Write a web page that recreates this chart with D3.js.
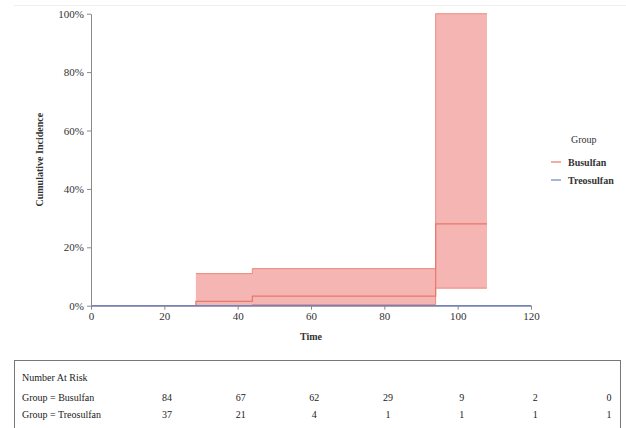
<!DOCTYPE html>
<html>
<head>
<meta charset="utf-8">
<script src="https://cdn.jsdelivr.net/npm/d3@7"></script>
<style>
  body { margin: 0; background: #fff; }
  svg { display: block; font-family: "Liberation Serif", "DejaVu Serif", serif; }
  .axis text { font-size: 11px; fill: #333; font-family: "Liberation Serif", serif; }
  .axis path, .axis line { stroke: #8a8a8a; }
</style>
</head>
<body>
<div id="chart"></div>
<script>
// Courbe d'incidence cumulée par groupe + table "Number At Risk"

const xTicks = [0, 20, 40, 60, 80, 100, 120];
const yTicks = [0, 20, 40, 60, 80, 100];

// Busulfan : temps des sauts, estimation et IC (en %)
const busTime  = [0, 28.6, 44, 94, 108];
const busEst   = [0, 1.5, 3.3, 28, 28];
const busLower = [0, 0, 0.4, 6, 6];
const busUpper = [0, 11, 12.7, 100, 100];

// Treosulfan : reste à 0
const treoTime = [0, 120];
const treoEst  = [0, 0];

const groups = ["Busulfan", "Treosulfan"];
const groupColors = ["#e8776c", "#6f82c4"];

const riskRows = ["Group = Busulfan", "Group = Treosulfan"];
const riskBusulfan  = [84, 67, 62, 29, 9, 2, 0];
const riskTreosulfan = [37, 21, 4, 1, 1, 1, 1];

function createChart() {
    const W = 626, H = 428;
    const margin = { top: 13.7, left: 91 };
    const width = 440;
    const height = 292;

    const svg = d3.select("#chart")
        .append("svg")
        .attr("width", W)
        .attr("height", H);

    // Bordure légère en haut
    svg.append("line")
        .attr("x1", 14).attr("x2", W)
        .attr("y1", 5.5).attr("y2", 5.5)
        .attr("stroke", "#eeeeee");

    const g = svg.append("g")
        .attr("transform", `translate(${margin.left},${margin.top})`);

    const x = d3.scaleLinear().domain([0, 120]).range([0, width]);
    const y = d3.scaleLinear().domain([0, 100]).range([height, 0]);

    // Bande de confiance Busulfan
    const band = busTime.map((t, i) => ({ t, lo: busLower[i], hi: busUpper[i] }))
        .filter(d => d.t >= 28.6);

    g.append("path")
        .datum(band)
        .attr("fill", "#f5b5b3")
        .attr("stroke", "none")
        .attr("d", d3.area()
            .curve(d3.curveStepAfter)
            .x(d => x(d.t))
            .y0(d => y(d.lo))
            .y1(d => y(d.hi)));

    const stepLine = d3.line().curve(d3.curveStepAfter);

    ["lo", "hi"].forEach(k => {
        g.append("path")
            .datum(band)
            .attr("fill", "none")
            .attr("stroke", groupColors[0])
            .attr("stroke-opacity", 0.8)
            .attr("stroke-width", 1)
            .attr("d", stepLine.x(d => x(d.t)).y(d => y(d[k])));
    });

    // Axes
    g.append("g")
        .attr("class", "axis")
        .attr("transform", `translate(0,${height})`)
        .call(d3.axisBottom(x).tickValues(xTicks).tickSize(4).tickSizeOuter(0).tickPadding(3))
        .attr("font-family", null);

    g.append("g")
        .attr("class", "axis")
        .call(d3.axisLeft(y).tickValues(yTicks).tickSize(4).tickSizeOuter(0).tickPadding(3)
            .tickFormat(d => d + "%"))
        .attr("font-family", null);

    // Estimation Busulfan
    g.append("path")
        .datum(busTime.map((t, i) => ({ t, v: busEst[i] })))
        .attr("fill", "none")
        .attr("stroke", groupColors[0])
        .attr("stroke-width", 1.2)
        .attr("d", stepLine.x(d => x(d.t)).y(d => y(d.v)));

    // Treosulfan
    g.append("path")
        .datum(treoTime.map((t, i) => ({ t, v: treoEst[i] })))
        .attr("fill", "none")
        .attr("stroke", groupColors[1])
        .attr("stroke-width", 1.2)
        .attr("d", stepLine.x(d => x(d.t)).y(d => y(d.v)));

    // Titres des axes
    g.append("text")
        .attr("transform", `translate(${-48},${height / 2}) rotate(-90)`)
        .attr("text-anchor", "middle")
        .style("font-size", "10px")
        .style("font-weight", "bold")
        .attr("fill", "#333")
        .text("Cumulative Incidence");

    g.append("text")
        .attr("x", width / 2)
        .attr("y", height + 34)
        .attr("text-anchor", "middle")
        .style("font-size", "10px")
        .style("font-weight", "bold")
        .attr("fill", "#333")
        .text("Time");

    // Légende
    const legend = svg.append("g").attr("transform", "translate(551,143)");
    legend.append("text")
        .attr("x", 20).attr("y", 0)
        .style("font-size", "10px")
        .attr("fill", "#333")
        .text("Group");
    groups.forEach((name, i) => {
        legend.append("line")
            .attr("x1", 0).attr("x2", 10)
            .attr("y1", 19 + i * 18).attr("y2", 19 + i * 18)
            .attr("stroke", groupColors[i])
            .attr("stroke-width", 1.2);
        legend.append("text")
            .attr("x", 17).attr("y", 22.5 + i * 18)
            .style("font-size", "10px")
            .style("font-weight", "bold")
            .attr("fill", "#333")
            .text(name);
    });

    // Table "Number At Risk"
    const table = svg.append("g");
    table.append("rect")
        .attr("x", 14.5).attr("y", 360.5)
        .attr("width", 606).attr("height", 70)
        .attr("fill", "none")
        .attr("stroke", "#777");

    table.append("text")
        .attr("x", 22).attr("y", 381)
        .style("font-size", "10px")
        .attr("fill", "#222")
        .text("Number At Risk");

    const colX = d3.scalePoint().domain(d3.range(7)).range([167, 609]);
    [riskBusulfan, riskTreosulfan].forEach((row, r) => {
        const yy = 401 + r * 17;
        table.append("text")
            .attr("x", 22).attr("y", yy)
            .style("font-size", "10px")
            .attr("fill", "#222")
            .text(riskRows[r]);
        row.forEach((v, i) => {
            table.append("text")
                .attr("x", colX(i)).attr("y", yy)
                .attr("text-anchor", "middle")
                .style("font-size", "10px")
                .attr("fill", "#222")
                .text(v);
        });
    });
}

createChart();
</script>
</body>
</html>
